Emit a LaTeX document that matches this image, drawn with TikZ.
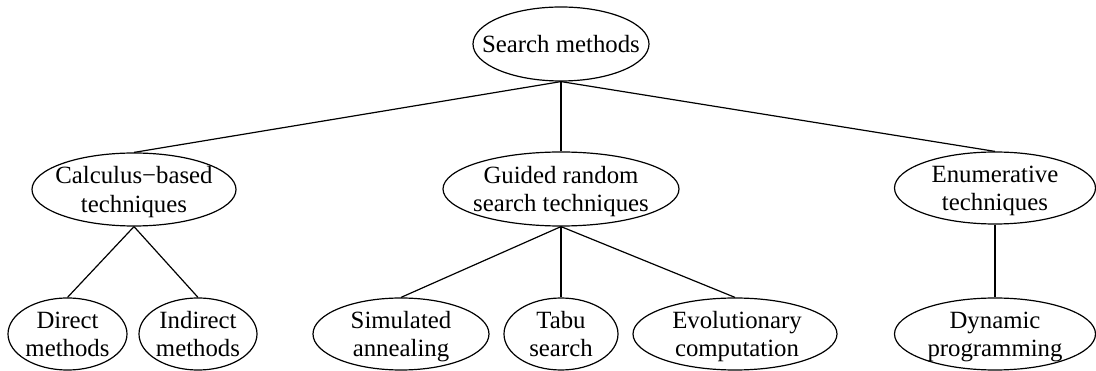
\documentclass[tikz,border=0pt]{standalone}
\usepackage{fontspec}
\setmainfont{Liberation Serif}
\usetikzlibrary{shapes.geometric}

\tikzset{
  ell/.style={draw, ellipse, inner sep=0pt, line width=1.2pt},
  lbl/.style={align=center, inner sep=0pt, text depth=0pt,
              font=\fontsize{24.8}{28.5}\selectfont},
  oneline/.style={lbl, text height=17pt},
  twoline/.style={lbl, text height=45.5pt},
  edge/.style={line width=1.2pt}
}

% ellipse node with its caption as a separate named text node
\newcommand{\treenode}[7]{%
  \node[ell, minimum width=#3pt, minimum height=#4pt] (#1) at (#2) {};
  \node[#7] (#1-t) at (#5) {#6};
}

\begin{document}
\begin{tikzpicture}[x=1pt, y=-1pt]
\useasboundingbox (0,0) rectangle (1096,371);

% root
\treenode{sm}{561,44}{176}{74}{561,44}{Search methods}{oneline}

% second level
\treenode{calc}{134,189.5}{204}{73}{134,189.5}{Calculus−based\\techniques}{twoline}
\treenode{guided}{561,189}{236}{74}{561,189}{Guided random\\search techniques}{twoline}
\treenode{enum}{995,188}{201}{72}{995,188}{Enumerative\\techniques}{twoline}

% leaves
\treenode{direct}{67.5,334}{119}{72}{67.5,334}{Direct\\methods}{twoline}
\treenode{indirect}{198,334}{118}{72}{198,334}{Indirect\\methods}{twoline}
\treenode{sim}{401,334}{176}{72}{401,334}{Simulated\\annealing}{twoline}
\treenode{tabu}{561,334}{114}{72}{561,334}{Tabu\\search}{twoline}
\treenode{evo}{735,334}{204}{72}{737,334}{Evolutionary\\computation}{twoline}
\treenode{dyn}{995,334}{201}{72}{995,334}{Dynamic\\programming}{twoline}

% connectors
\draw[edge] (sm.south) -- (calc.north);
\draw[edge] (sm.south) -- (guided.north);
\draw[edge] (sm.south) -- (enum.north);
\draw[edge] (calc.south) -- (direct.north);
\draw[edge] (calc.south) -- (indirect.north);
\draw[edge] (guided.south) -- (sim.north);
\draw[edge] (guided.south) -- (tabu.north);
\draw[edge] (guided.south) -- (evo.north);
\draw[edge] (enum.south) -- (dyn.north);
\end{tikzpicture}
\end{document}
